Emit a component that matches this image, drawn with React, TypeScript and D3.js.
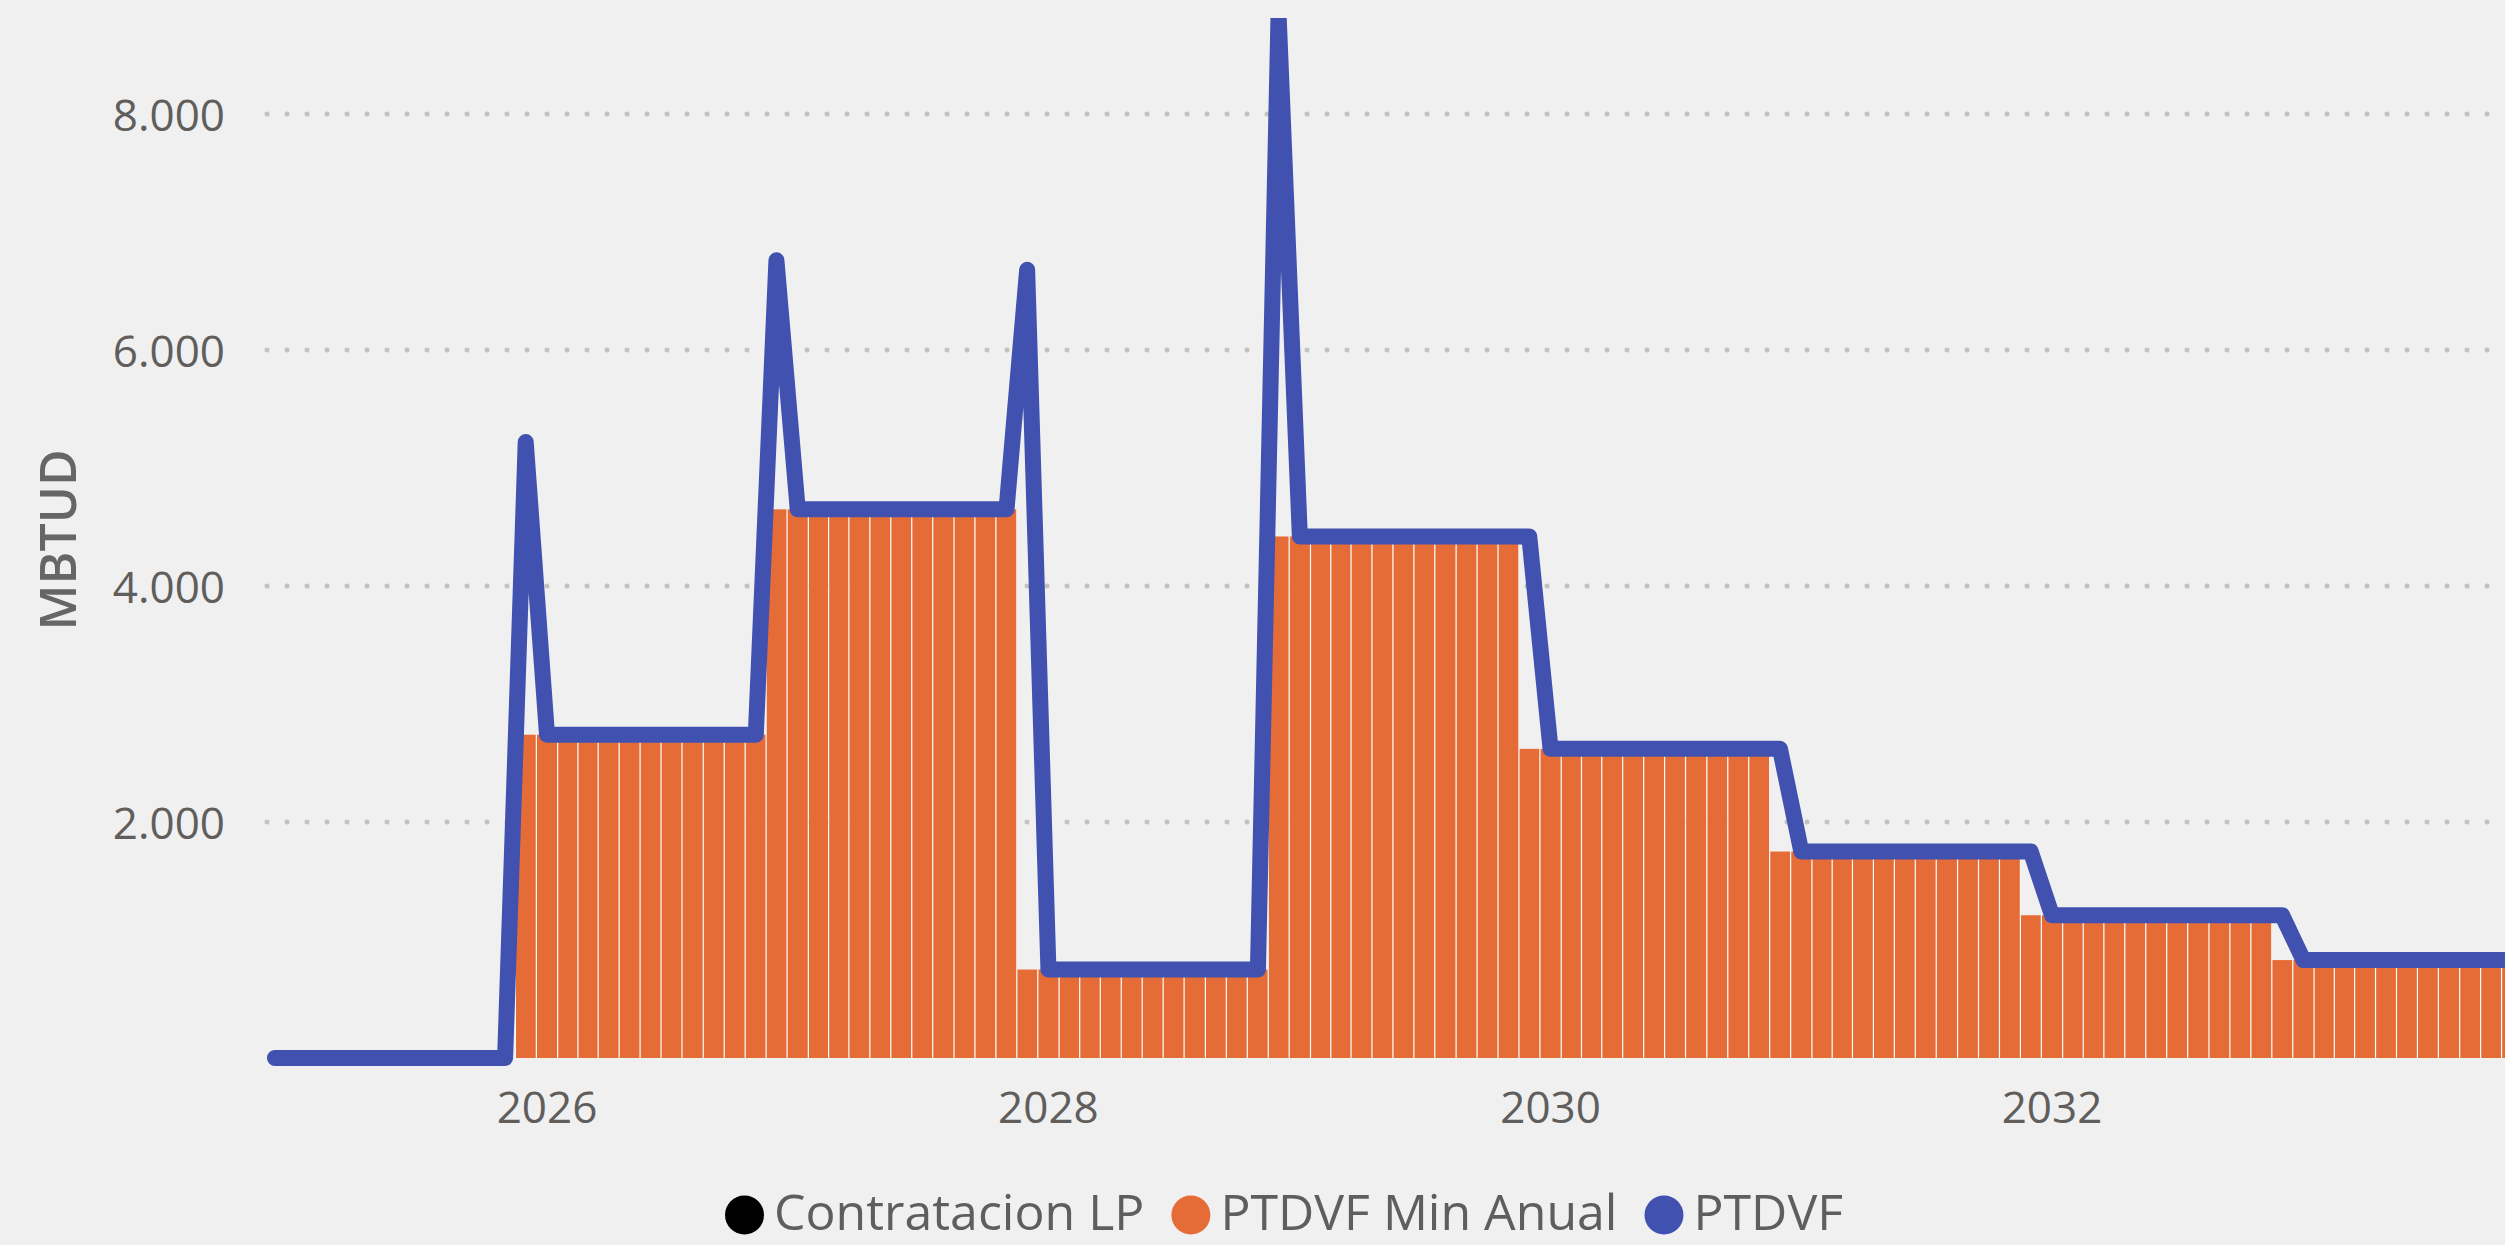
import React, { useEffect, useRef } from "react";
import * as d3 from "d3";

// meses (periodos anuales de diciembre a noviembre)
const MES_INICIAL = "2024-12-01";
const MES_FINAL = "2033-11-01";

// PTDVF mensual, una fila por periodo dic-nov
const PTDVF = [
  0, 0, 0, 0, 0, 0, 0, 0, 0, 0, 0, 0,
  5220, 2740, 2740, 2740, 2740, 2740, 2740, 2740, 2740, 2740, 2740, 2740,
  6760, 4650, 4650, 4650, 4650, 4650, 4650, 4650, 4650, 4650, 4650, 4650,
  6680, 750, 750, 750, 750, 750, 750, 750, 750, 750, 750, 750,
  8850, 4420, 4420, 4420, 4420, 4420, 4420, 4420, 4420, 4420, 4420, 4420,
  4420, 2620, 2620, 2620, 2620, 2620, 2620, 2620, 2620, 2620, 2620, 2620,
  2620, 1750, 1750, 1750, 1750, 1750, 1750, 1750, 1750, 1750, 1750, 1750,
  1750, 1210, 1210, 1210, 1210, 1210, 1210, 1210, 1210, 1210, 1210, 1210,
  1210, 830, 830, 830, 830, 830, 830, 830, 830, 830, 830, 830,
];

// PTDVF Min Anual mensual
const PTDVF_MIN_ANUAL = [
  0, 0, 0, 0, 0, 0, 0, 0, 0, 0, 0, 0,
  2740, 2740, 2740, 2740, 2740, 2740, 2740, 2740, 2740, 2740, 2740, 2740,
  4650, 4650, 4650, 4650, 4650, 4650, 4650, 4650, 4650, 4650, 4650, 4650,
  750, 750, 750, 750, 750, 750, 750, 750, 750, 750, 750, 750,
  4420, 4420, 4420, 4420, 4420, 4420, 4420, 4420, 4420, 4420, 4420, 4420,
  2620, 2620, 2620, 2620, 2620, 2620, 2620, 2620, 2620, 2620, 2620, 2620,
  1750, 1750, 1750, 1750, 1750, 1750, 1750, 1750, 1750, 1750, 1750, 1750,
  1210, 1210, 1210, 1210, 1210, 1210, 1210, 1210, 1210, 1210, 1210, 1210,
  830, 830, 830, 830, 830, 830, 830, 830, 830, 830, 830, 830,
];

// sin valores visibles en el grafico
const CONTRATACION_LP: number[] = [];

const TICKS_Y = [2000, 4000, 6000, 8000];
const TICKS_X = ["2026-01-01", "2028-01-01", "2030-01-01", "2032-01-01"];

const SERIES = ["Contratacion LP", "PTDVF Min Anual", "PTDVF"];
const COLORES = ["#000000", "#E66C37", "#4151B0"];

const FUENTE = "'Segoe UI', 'Open Sans', sans-serif";
const GRIS = "#605E5C";

export default function App() {
  const svgRef = useRef<SVGSVGElement>(null);

  useEffect(() => {
    const width = 2505;
    const height = 1245;
    const plot = { left: 267, top: 18, right: 2505, bottom: 1245 };

    const svg = d3.select(svgRef.current);
    svg.selectAll("*").remove();
    svg.attr("width", width).attr("height", height);

    svg
      .append("rect")
      .attr("width", width)
      .attr("height", height)
      .attr("fill", "#F0F0F0");

    const parse = d3.timeParse("%Y-%m-%d");
    const meses = d3.timeMonth.range(
      parse(MES_INICIAL)!,
      d3.timeMonth.offset(parse(MES_FINAL)!, 1)
    );

    const x = d3
      .scaleTime()
      .domain([new Date(2026, 0, 1), new Date(2032, 0, 1)])
      .range([547, 2052]);
    const y = d3.scaleLinear().domain([0, 8000]).range([1058, 114]);

    const fmt = d3.formatLocale({
      decimal: ",",
      thousands: ".",
      grouping: [3],
      currency: ["", ""],
    }).format(",");

    svg
      .append("defs")
      .append("clipPath")
      .attr("id", "plot-clip")
      .append("rect")
      .attr("x", plot.left)
      .attr("y", plot.top)
      .attr("width", plot.right - plot.left)
      .attr("height", plot.bottom - plot.top);

    // grid punteado
    svg
      .append("g")
      .selectAll("line")
      .data(TICKS_Y)
      .enter()
      .append("line")
      .attr("x1", plot.left)
      .attr("x2", plot.right)
      .attr("y1", (d) => y(d))
      .attr("y2", (d) => y(d))
      .attr("stroke", "#C4C2BF")
      .attr("stroke-width", 5)
      .attr("stroke-linecap", "round")
      .attr("stroke-dasharray", "0 20");

    const g = svg.append("g").attr("clip-path", "url(#plot-clip)");

    // barras mensuales
    const barras = meses
      .map((d, i) => {
        const prev = d3.timeMonth.offset(d, -1);
        const next = d3.timeMonth.offset(d, 1);
        return {
          x0: (x(prev) + x(d)) / 2,
          x1: (x(d) + x(next)) / 2,
          v: PTDVF_MIN_ANUAL[i],
        };
      })
      .filter((b) => b.v > 0);

    const bars = g.append("g").selectAll("g").data(barras).enter().append("g");
    bars
      .append("rect")
      .attr("x", (b) => b.x0)
      .attr("width", (b) => b.x1 - b.x0)
      .attr("y", (b) => y(b.v))
      .attr("height", (b) => y(0) - y(b.v))
      .attr("fill", "#FFFFFF");
    bars
      .append("rect")
      .attr("x", (b) => b.x0 + 0.6)
      .attr("width", (b) => b.x1 - b.x0 - 1.2)
      .attr("y", (b) => y(b.v))
      .attr("height", (b) => y(0) - y(b.v))
      .attr("fill", COLORES[1]);

    const linea = d3
      .line<number>()
      .x((_, i) => x(meses[i]))
      .y((v) => y(v));

    if (CONTRATACION_LP.length) {
      g.append("path")
        .attr("d", linea(CONTRATACION_LP))
        .attr("fill", "none")
        .attr("stroke", COLORES[0])
        .attr("stroke-width", 6);
    }

    g.append("path")
      .attr("d", linea(PTDVF))
      .attr("fill", "none")
      .attr("stroke", COLORES[2])
      .attr("stroke-width", 16)
      .attr("stroke-linejoin", "round")
      .attr("stroke-linecap", "round");

    // eje Y
    svg
      .append("g")
      .selectAll("text")
      .data(TICKS_Y)
      .enter()
      .append("text")
      .attr("x", 225)
      .attr("y", (d) => y(d))
      .attr("text-anchor", "end")
      .attr("dominant-baseline", "central")
      .style("font-family", FUENTE)
      .style("font-size", "44px")
      .style("fill", GRIS)
      .text((d) => fmt(d));

    svg
      .append("text")
      .attr("transform", "translate(57, 540) rotate(-90)")
      .attr("text-anchor", "middle")
      .attr("dominant-baseline", "central")
      .style("font-family", FUENTE)
      .style("font-size", "50px")
      .style("font-weight", 600)
      .style("fill", "#666666")
      .text("MBTUD");

    // eje X
    svg
      .append("g")
      .selectAll("text")
      .data(TICKS_X)
      .enter()
      .append("text")
      .attr("x", (d) => x(parse(d)!))
      .attr("y", 1123)
      .attr("text-anchor", "middle")
      .style("font-family", FUENTE)
      .style("font-size", "44px")
      .style("fill", GRIS)
      .text((d) => d.slice(0, 4));

    // leyenda
    const legend = svg.append("g");
    let cx = 725;
    SERIES.forEach((nombre, i) => {
      legend
        .append("circle")
        .attr("cx", cx + 19.5)
        .attr("cy", 1215)
        .attr("r", 19.5)
        .attr("fill", COLORES[i]);
      const t = legend
        .append("text")
        .attr("x", cx + 49)
        .attr("y", 1230)
        .style("font-family", FUENTE)
        .style("font-size", "50px")
        .style("fill", GRIS)
        .text(nombre);
      const w = (t.node() as SVGTextElement).getComputedTextLength();
      cx = cx + 49 + w + 27;
    });
  }, []);

  return (
    <div
      style={{
        position: "absolute",
        left: 0,
        top: 0,
        width: 2505,
        height: 1245,
        overflow: "hidden",
        background: "#F0F0F0",
      }}
    >
      <svg ref={svgRef} style={{ display: "block" }}></svg>
    </div>
  );
}
